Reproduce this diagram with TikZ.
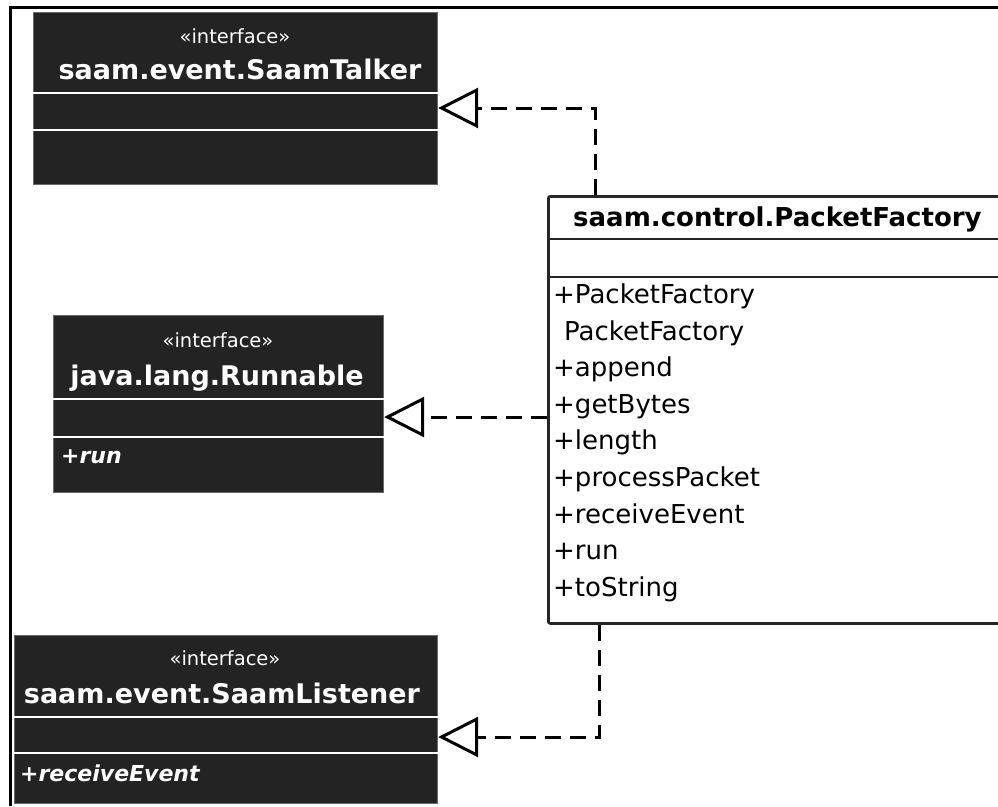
\documentclass[tikz,border=0pt]{standalone}
\usepackage{fontspec}
\setmainfont{DejaVu Sans}
\usetikzlibrary{arrows.meta}
\definecolor{ifill}{HTML}{232323}
\definecolor{iedge}{HTML}{6A6A6A}
\tikzset{
  iface/.style={draw=iedge, line width=1.2pt, fill=ifill, anchor=north west, inner sep=0pt},
  sepline/.style={draw=white, line width=2pt},
  stereo/.style={text=white, font=\fontsize{19.5}{22}\selectfont, anchor=base, inner sep=0pt},
  iname/.style={text=white, font=\bfseries\fontsize{27}{30}\selectfont, anchor=base, inner sep=0pt},
  imeth/.style={text=white, font=\bfseries\itshape\fontsize{22}{24}\selectfont, anchor=base west, inner sep=0pt},
  cls/.style={draw=black!85, line width=2.8pt, fill=white, anchor=north west, inner sep=0pt, rounded corners=2pt},
  clsline/.style={draw=black!85, line width=2.4pt},
  ctitle/.style={font=\bfseries\fontsize{26}{30}\selectfont, anchor=base west, inner sep=0pt},
  meth/.style={font=\fontsize{26}{28}\selectfont, anchor=base west, inner sep=0pt},
  realize/.style={line width=3pt, dash pattern=on 16pt off 9pt,
    -{Triangle[open, length=40pt, width=40pt, line width=3pt]}},
  framestyle/.style={line width=3pt}
}
\begin{document}
\begin{tikzpicture}[x=1pt, y=-1pt]
\clip (0,0) rectangle (998,806);
\fill[white] (0,0) rectangle (998,806);

% outer frame
\draw[framestyle] (10,806) -- (10,7) -- (998,7);

% interface SaamTalker
\node[iface, minimum width=404pt, minimum height=172pt] (talker) at (33,12) {};
\draw[sepline] (talker.west |- 0,93) -- (talker.east |- 0,93);
\draw[sepline] (talker.west |- 0,130) -- (talker.east |- 0,130);
\node[stereo] (talkerst) at (235,43) {«interface»};
\node[iname] (talkername) at (240,79) {saam.event.SaamTalker};

% interface Runnable
\node[iface, minimum width=330pt, minimum height=177pt] (runnable) at (53,315) {};
\draw[sepline] (runnable.west |- 0,399) -- (runnable.east |- 0,399);
\draw[sepline] (runnable.west |- 0,437) -- (runnable.east |- 0,437);
\node[stereo] (runnablest) at (218,347) {«interface»};
\node[iname] (runnablename) at (217,385) {java.lang.Runnable};
\node[imeth] (runnablerun) at (61,463) {+run};

% interface SaamListener
\node[iface, minimum width=423pt, minimum height=168pt] (listener) at (14,635) {};
\draw[sepline] (listener.west |- 0,717) -- (listener.east |- 0,717);
\draw[sepline] (listener.west |- 0,753) -- (listener.east |- 0,753);
\node[stereo] (listenerst) at (225,665) {«interface»};
\node[iname] (listenername) at (222,703) {saam.event.SaamListener};
\node[imeth] (listenerrecv) at (20,781) {+receiveEvent};

% class PacketFactory
\node[cls, minimum width=470pt, minimum height=427pt] (pf) at (547,195) {};
\draw[clsline] (pf.west |- 0,239) -- (pf.east |- 0,239);
\draw[clsline] (pf.west |- 0,277) -- (pf.east |- 0,277);
\node[ctitle] (pftitle) at (573,226) {saam.control.PacketFactory};
\node[meth] (m1) at (553,303) {+PacketFactory};
\node[meth] (m2) at (564,340) {PacketFactory};
\node[meth] (m3) at (553,376) {+append};
\node[meth] (m4) at (553,413) {+getBytes};
\node[meth] (m5) at (553,449) {+length};
\node[meth] (m6) at (553,486) {+processPacket};
\node[meth] (m7) at (553,523) {+receiveEvent};
\node[meth] (m8) at (553,559) {+run};
\node[meth] (m9) at (553,596) {+toString};

% realizations
\coordinate (ctalk) at (595,108);
\coordinate (crun) at (547,417);
\coordinate (clist) at (599,737);
\draw[realize] (pf.north -| ctalk) -- (ctalk) -- (talker.east |- ctalk);
\draw[realize] (pf.west |- crun) -- (runnable.east |- crun);
\draw[realize] (pf.south -| clist) -- (clist) -- (listener.east |- clist);
\end{tikzpicture}
\end{document}
